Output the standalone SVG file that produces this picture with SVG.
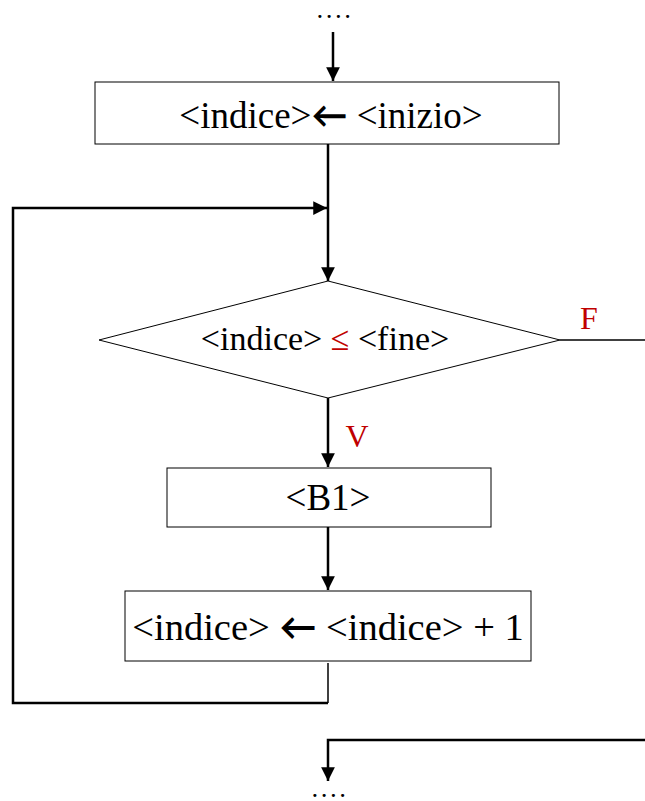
<svg xmlns="http://www.w3.org/2000/svg" width="645" height="801" viewBox="0 0 645 801">
<defs>
<marker id="ah" viewBox="0 0 10 10" refX="10" refY="5" markerWidth="5.5" markerHeight="5.5" markerUnits="strokeWidth" orient="auto">
<path d="M0,0 L10,5 L0,10 z" fill="#000"/>
</marker>
<style>
.box{fill:#fff;stroke:#000;stroke-width:1}
.t{font-family:"Liberation Serif","Times New Roman",serif;font-size:37px;fill:#000;text-anchor:middle}
.red{fill:#c00000}
.arr{font-family:Lato,"Noto Sans CJK SC",sans-serif;font-weight:bold;font-size:36px}
.c{fill:none;stroke:#000;stroke-width:2.5}
.th{fill:none;stroke:#000;stroke-width:1.5}
.dots{font-family:"Liberation Serif",serif;font-size:19px;fill:#000;text-anchor:middle;letter-spacing:4.5px;font-weight:bold}
</style>
</defs>
<rect width="645" height="801" fill="#fff"/>
<g id="connectors">
<line class="c" x1="333" y1="32" x2="333" y2="81" marker-end="url(#ah)"/>
<line class="c" x1="328" y1="144" x2="328" y2="281" marker-end="url(#ah)"/>
<polyline class="c" points="328,703 13,703 13,208 327,208" marker-end="url(#ah)"/>
<line class="th" x1="328" y1="663" x2="328" y2="703"/>
<line class="c" x1="328" y1="398" x2="328" y2="467" marker-end="url(#ah)"/>
<line class="c" x1="328" y1="527" x2="328" y2="590" marker-end="url(#ah)"/>
<line class="th" x1="560" y1="340" x2="645" y2="340"/>
<polyline class="c" points="645,740 328,740 328,781" marker-end="url(#ah)"/>
</g>
<g id="start">
<text class="dots" x="336" y="17.5">....</text>
</g>
<g id="init">
<rect class="box" x="95" y="82" width="464" height="62"/>
<text class="t" x="331" y="128">&lt;indice&gt;<tspan class="arr">←</tspan> &lt;inizio&gt;</text>
</g>
<g id="cond">
<polygon class="box" points="99,340 328,281 560,340 328,398"/>
<text class="t" x="325" y="350" style="font-size:34px">&lt;indice&gt; <tspan class="red">≤</tspan> &lt;fine&gt;</text>
<text class="t red" x="589" y="329" style="font-size:32px">F</text>
<text class="t red" x="357" y="447" style="font-size:32px">V</text>
</g>
<g id="b1">
<rect class="box" x="167" y="468" width="324" height="59"/>
<text class="t" x="328" y="510">&lt;B1&gt;</text>
</g>
<g id="incr">
<rect class="box" x="125" y="591" width="406" height="70"/>
<text class="t" x="328" y="640" style="font-size:38.5px">&lt;indice&gt; <tspan class="arr" style="font-size:37px">←</tspan> &lt;indice&gt; + 1</text>
</g>
<g id="end">
<text class="dots" x="331" y="797">....</text>
</g>
</svg>
